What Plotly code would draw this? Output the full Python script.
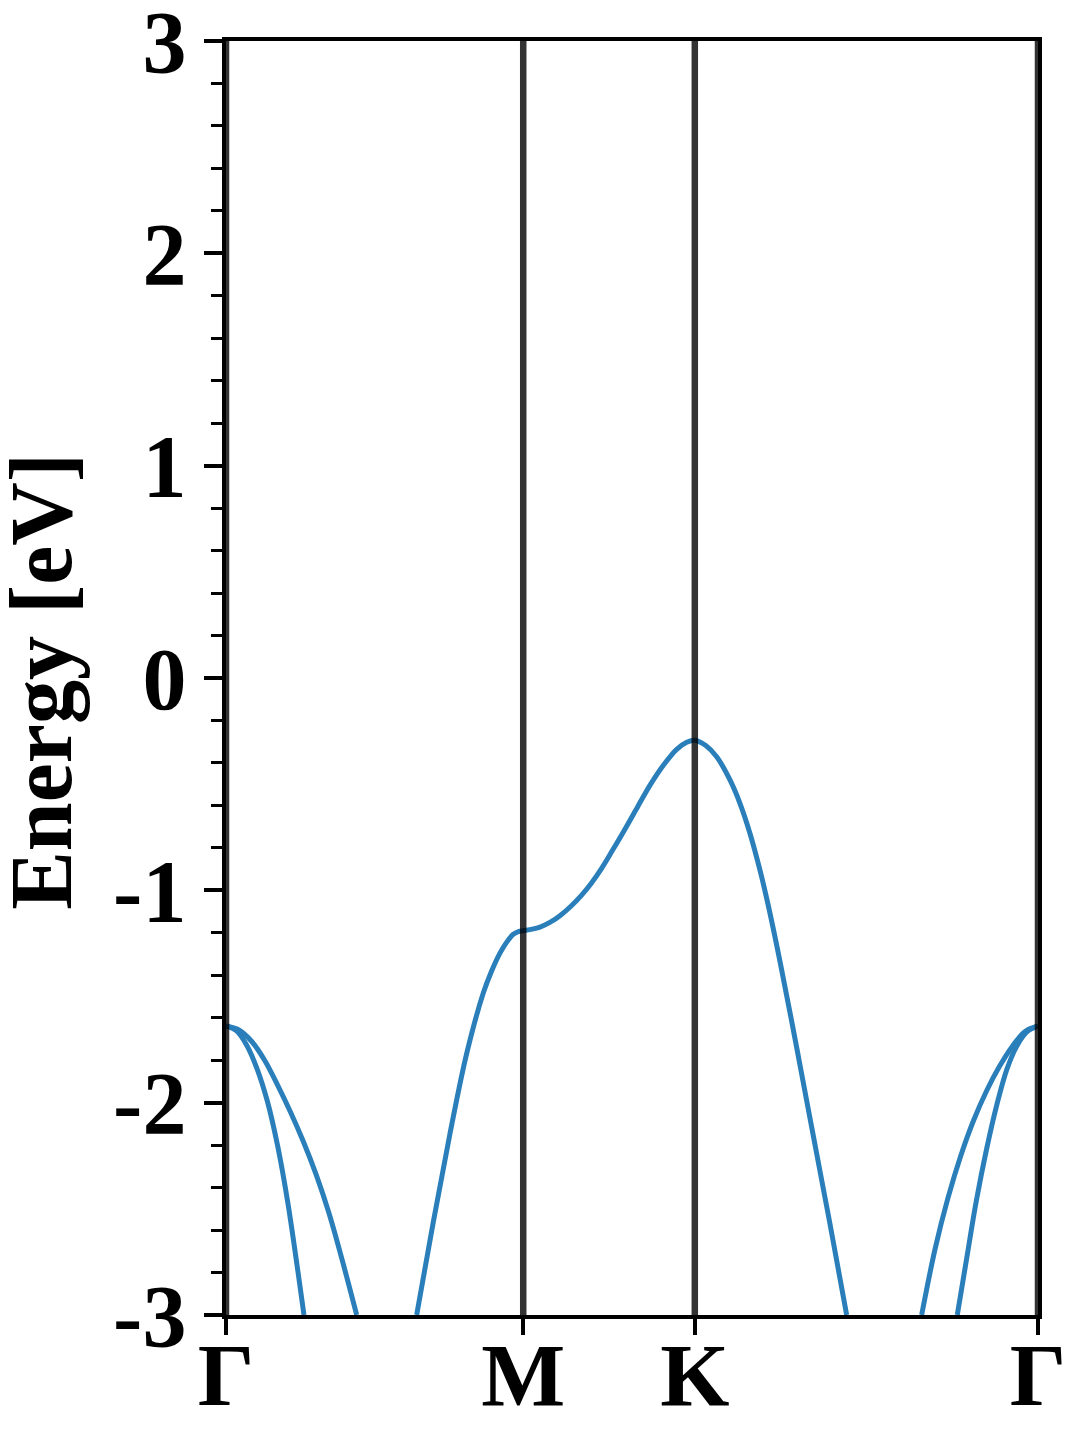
import plotly.graph_objects as go

# High-symmetry points along the path (k distance)
kpoint_pos = [0.0, 0.5774, 0.9107, 1.5774]
kpoint_labels = ["Γ", "M", "K", "Γ"]

# Band A: steep band leaving Γ (left side)
bandA_k = [0.0, 0.02, 0.04, 0.06, 0.08, 0.10, 0.12, 0.14, 0.1515]
bandA_E = [-1.639, -1.661, -1.728, -1.838, -1.990, -2.200, -2.470, -2.800, -3.0]

# Band B: flatter band leaving Γ (left side)
bandB_k = [0.0, 0.025, 0.05, 0.075, 0.10, 0.125, 0.15, 0.175, 0.20, 0.225, 0.2539]
bandB_E = [-1.639, -1.658, -1.712, -1.800, -1.916, -2.043, -2.182, -2.338, -2.520, -2.735, -3.0]

# Band C: band through M and K
bandC_k = [0.3704, 0.4027, 0.4351, 0.4676, 0.4998, 0.5160, 0.5322, 0.5450, 0.5581, 0.5680,
           0.5774, 0.5950, 0.6100, 0.6300, 0.6500, 0.6700, 0.6900, 0.7100, 0.7300, 0.7500,
           0.7750, 0.8000, 0.8250, 0.8500, 0.8750, 0.8950, 0.9107, 0.9320, 0.9532, 0.9790,
           0.9984, 1.0179, 1.0373, 1.0534, 1.0762, 1.1086, 1.1408, 1.1733, 1.2057]
bandC_E = [-3.0, -2.562, -2.146, -1.768, -1.484, -1.380, -1.296, -1.245, -1.207, -1.194,
           -1.190, -1.183, -1.173, -1.150, -1.117, -1.075, -1.025, -0.965, -0.895, -0.815,
           -0.712, -0.605, -0.500, -0.410, -0.337, -0.303, -0.293, -0.318, -0.371, -0.480,
           -0.590, -0.732, -0.905, -1.071, -1.335, -1.740, -2.155, -2.571, -3.0]

# Band D: flatter band arriving at Γ (right side)
bandD_k = [1.3514, 1.3774, 1.4024, 1.4274, 1.4524, 1.4774, 1.5024, 1.5274, 1.5524, 1.5774]
bandD_E = [-3.0, -2.690, -2.450, -2.250, -2.083, -1.945, -1.830, -1.735, -1.665, -1.639]

# Band E: steep band arriving at Γ (right side)
bandE_k = [1.4206, 1.4374, 1.4574, 1.4774, 1.4974, 1.5174, 1.5374, 1.5574, 1.5774]
bandE_E = [-3.0, -2.755, -2.465, -2.220, -2.010, -1.840, -1.728, -1.663, -1.639]

y_ticks = [-3, -2, -1, 0, 1, 2, 3]
y_ticktext = ["-3", "-2", "-1", "0", "1", "2", "3"]
y_title = "Energy [eV]"

band_color = "#2a7fba"
FONT = "Liberation Serif, Times New Roman, serif"

fig = go.Figure()
for ks, es in [(bandA_k, bandA_E), (bandB_k, bandB_E), (bandC_k, bandC_E),
               (bandD_k, bandD_E), (bandE_k, bandE_E)]:
    fig.add_trace(go.Scatter(x=ks, y=es, mode="lines",
                             line=dict(color=band_color, width=5, shape="spline", smoothing=1.0),
                             showlegend=False, hoverinfo="skip"))

for kp in kpoint_pos:
    fig.add_shape(type="line", xref="x", yref="paper", x0=kp, x1=kp, y0=0, y1=1,
                  line=dict(color="rgba(0,0,0,0.8)", width=6.5), layer="above")

# y-axis title as a rotated annotation so it can sit close to the page edge
fig.add_annotation(text=y_title, xref="paper", yref="paper", x=-0.2266, y=0.497,
                   xanchor="center", yanchor="middle", textangle=-90, showarrow=False,
                   font=dict(family=FONT, size=88, color="black", weight="bold"))

# page body has an 8px margin, so the figure is sized/offset to compensate
fig.update_layout(
    width=1072, height=1432,
    margin=dict(l=218, r=42, t=33, b=125),
    plot_bgcolor="white", paper_bgcolor="white",
    font=dict(family=FONT, color="black"),
)
fig.update_xaxes(
    range=[kpoint_pos[0], kpoint_pos[-1]],
    tickvals=kpoint_pos, ticktext=kpoint_labels,
    tickfont=dict(family=FONT, size=89, color="black", weight="bold"),
    ticks="outside", ticklen=16, tickwidth=3.5, tickcolor="black",
    ticklabelstandoff=-37, ticklabeloverflow="allow",
    showline=True, linewidth=4, linecolor="black", mirror=True,
    showgrid=False, zeroline=False, automargin=False,
)
fig.update_yaxes(
    range=[-3.0001, 3.0001],
    tickvals=y_ticks, ticktext=y_ticktext,
    tickfont=dict(family=FONT, size=88, color="black", weight="bold"),
    ticks="outside", ticklen=18, tickwidth=3.5, tickcolor="black",
    ticklabeloverflow="allow",
    minor=dict(dtick=0.2, tick0=0, ticks="outside", ticklen=11, tickwidth=3, tickcolor="black"),
    showline=True, linewidth=4, linecolor="black", mirror=True,
    showgrid=False, zeroline=False, automargin=False,
)

fig.write_html("out.html")
